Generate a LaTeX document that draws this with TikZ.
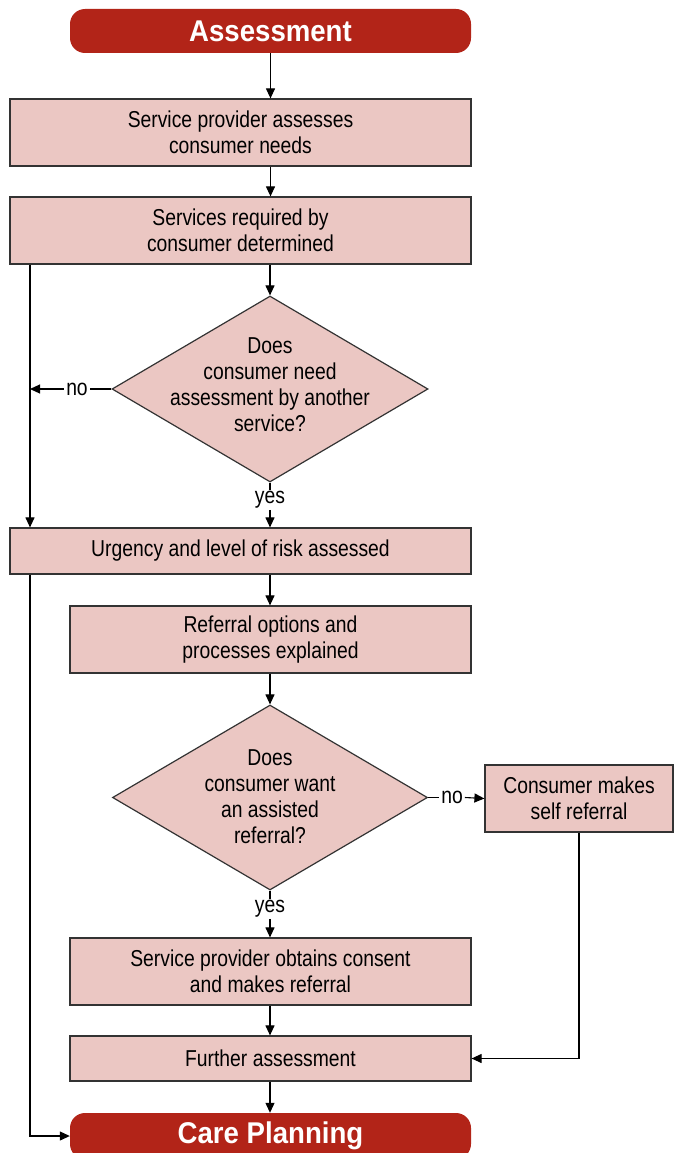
\documentclass[tikz,border=0pt]{standalone}
\usepackage{fontspec}
\setmainfont{Liberation Sans}[FakeStretch=0.84]
\newfontfamily\hdrfont{Liberation Sans}[FakeStretch=0.92]
\usetikzlibrary{shapes.geometric,arrows.meta}
\definecolor{hdr}{HTML}{B22418}
\definecolor{boxfill}{HTML}{EBC7C3}
\definecolor{edge}{HTML}{333333}
\begin{document}
\begin{tikzpicture}[x=1pt,y=-1pt,
  every node/.style={font=\fontsize{23}{26}\selectfont},
  stepbox/.style={draw=edge, line width=1.2pt, fill=boxfill, align=center, inner sep=0pt},
  header/.style={fill=hdr, rounded corners=15pt, text=white,
    font=\hdrfont\fontsize{30}{34}\selectfont\bfseries, inner sep=0pt,
    minimum width=401pt, minimum height=44pt},
  decision/.style={diamond, draw=edge, line width=1.2pt, fill=boxfill,
    inner sep=0pt, minimum width=316pt, minimum height=186pt},
  flow/.style={line width=1.1pt, -{Triangle[length=10pt,width=9pt]}},
  plain/.style={line width=1.1pt},
  tag/.style={inner sep=2pt}
]
\useasboundingbox (0,0) rectangle (673,1153);

% main column
\node[header] (start) at (270.5,31) {Assessment};
\node[stepbox, minimum width=461pt, minimum height=67pt] (b1) at (240.5,132.5)
  {Service provider assesses\\consumer needs};
\node[stepbox, minimum width=461pt, minimum height=67pt] (b2) at (240.5,230.5)
  {Services required by\\consumer determined};
\node[decision] (d1) at (270,389) {};
\node[align=center] (d1t) at (270,385)
  {Does\\consumer need\\assessment by another\\service?};
\node[stepbox, minimum width=461pt, minimum height=46pt] (b3) at (240.5,551)
  {Urgency and level of risk assessed};
\node[stepbox, minimum width=401pt, minimum height=67pt] (b4) at (270.5,639.5)
  {Referral options and\\processes explained};
\node[decision, minimum width=315pt, minimum height=185pt] (d2) at (270,797.5) {};
\node[align=center] (d2t) at (270,796.5)
  {Does\\consumer want\\an assisted\\referral?};
\node[stepbox, minimum width=188pt, minimum height=67pt] (b5) at (579,798.5)
  {Consumer makes\\self referral};
\node[stepbox, minimum width=401pt, minimum height=67pt] (b6) at (270.5,971.5)
  {Service provider obtains consent\\and makes referral};
\node[stepbox, minimum width=401pt, minimum height=45pt] (b7) at (270.5,1058.5)
  {Further assessment};
\node[header, minimum height=46pt] (end) at (270.5,1136) {Care Planning};

% branch labels
\node[tag] (no1) at (77,389) {no};
\node[tag, inner sep=1pt] (yes1) at (270,500) {yes};
\node[tag] (no2) at (452,797.5) {no};
\node[tag, inner sep=1pt] (yes2) at (270,909) {yes};
\coordinate (l1) at (30,389);

% connectors
\draw[flow] (start.south) -- (start.south |- b1.north);
\draw[flow] (b1.south -| start.south) -- (start.south |- b2.north);
\draw[flow] (b2.south -| d1) -- (d1.north);
\draw[plain] (d1.west) -- (no1.east);
\draw[flow] (no1.west) -- (l1);
\draw[plain] (d1.south) -- (yes1.north);
\draw[flow] (yes1.south) -- (b3.north -| d1);
\draw[flow] (b2.south -| l1) -- (b3.north -| l1);
\draw[flow] (b3.south -| l1) |- (end.west);
\draw[flow] (b3.south -| d1) -- (b4.north -| d1);
\draw[flow] (b4.south -| d1) -- (d2.north);
\draw[plain] (d2.east) -- (no2.west);
\draw[flow] (no2.east) -- (b5.west);
\draw[plain] (d2.south) -- (yes2.north);
\draw[flow] (yes2.south) -- (b6.north -| d2);
\draw[flow] (b6.south -| d2) -- (b7.north -| d2);
\draw[flow] (b5.south) |- (b7.east);
\draw[flow] (b7.south -| d2) -- (end.north -| d2);
\end{tikzpicture}
\end{document}
